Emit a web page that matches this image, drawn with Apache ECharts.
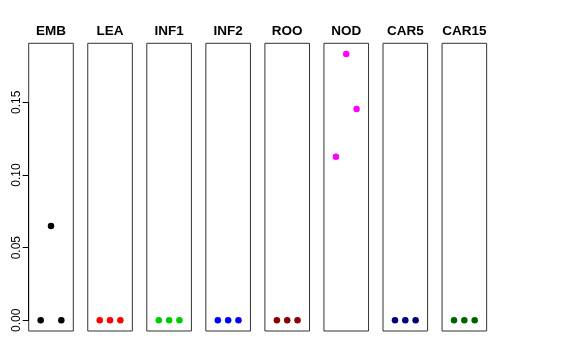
<!DOCTYPE html>
<html><head><meta charset="utf-8">
<script src="https://cdn.jsdelivr.net/npm/echarts@6/dist/echarts.min.js"></script>
<style>html,body{margin:0;padding:0;background:#fff}#c{width:576px;height:360px}</style>
</head><body><div id="c"></div>
<script>
const categories = ['EMB','LEA','INF1','INF2','ROO','NOD','CAR5','CAR15'];
const colors = ['#000000','#FF0000','#00CD00','#0000FF','#8B0000','#FF00FF','#000080','#006400'];
const values = [
  [0, 0.065, 0],
  [0, 0, 0],
  [0, 0, 0],
  [0, 0, 0],
  [0, 0, 0],
  [0.1125, 0.1833, 0.1455],
  [0, 0, 0],
  [0, 0, 0]
];
const yTicks = [0, 0.05, 0.10, 0.15];
const positions = [1, 2, 3];

(function () {
const yMax = 0.1833, yMinData = 0;
const ext = (yMax - yMinData) * 0.04;
const left0 = 28.7, step = 59.05, w = 44.6, gTop = 43.3, h = 287.7;
const grids = [], xAxes = [], yAxes = [], series = [];
categories.forEach((cat, i) => {
  grids.push({left: left0 + step * i, top: gTop, width: w, height: h, show: true,
    borderColor: '#333', borderWidth: 1, backgroundColor: 'transparent'});
  xAxes.push({type: 'value', gridIndex: i, min: -0.16, max: 4.16, position: 'top',
    axisLine: {show: false}, axisTick: {show: false}, axisLabel: {show: false}, splitLine: {show: false},
    name: cat, nameLocation: 'middle', nameGap: 5,
    nameTextStyle: {fontFamily: 'Liberation Sans, Arial, sans-serif', fontWeight: 'bold', fontSize: 13.5, color: '#000'}});
  yAxes.push({type: 'value', gridIndex: i, min: yMinData - ext, max: yMax + ext, show: false});
  series.push({type: 'scatter', xAxisIndex: i, yAxisIndex: i, symbolSize: 6.5,
    itemStyle: {color: colors[i], opacity: 1}, silent: true,
    data: values[i].map((v, j) => [positions[j], v])});
});
const pxPerUnit = h / ((yMax + ext) - (yMinData - ext));
const y0px = gTop + h - (0 - (yMinData - ext)) * pxPerUnit;
const yTopPx = y0px - (yTicks[yTicks.length - 1]) * pxPerUnit;
grids.push({left: left0, top: yTopPx, width: w, height: y0px - yTopPx, show: false});
const gi = categories.length;
xAxes.push({type: 'value', gridIndex: gi, show: false, min: 0, max: 1});
yAxes.push({type: 'value', gridIndex: gi, min: 0, max: yTicks[yTicks.length - 1], interval: 0.05,
  axisLine: {show: true, lineStyle: {color: '#000', width: 1}},
  axisTick: {show: true, length: 6, lineStyle: {color: '#000'}},
  splitLine: {show: false},
  axisLabel: {rotate: 90, margin: 6, color: '#000', fontSize: 12,
    fontFamily: 'Liberation Sans, Arial, sans-serif',
    formatter: v => v.toFixed(2)}});

const chart = echarts.init(document.getElementById('c'), null, {renderer: 'canvas'});
chart.setOption({animation: false, backgroundColor: '#fff',
  grid: grids, xAxis: xAxes, yAxis: yAxes, series: series});
})();
</script></body></html>
